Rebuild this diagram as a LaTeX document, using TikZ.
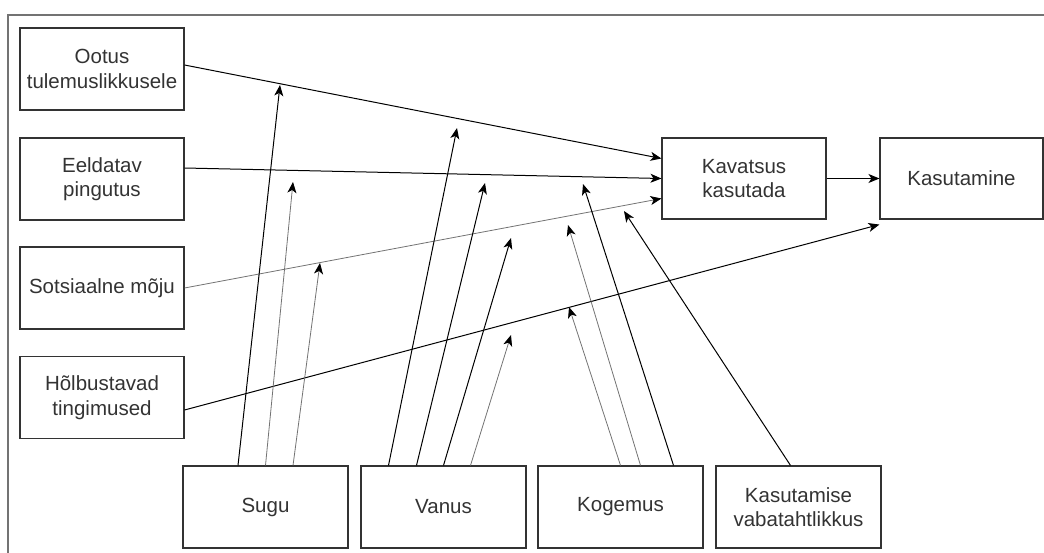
\documentclass[tikz,border=0pt]{standalone}
\usepackage{fontspec}
\setmainfont{Liberation Sans}
\usetikzlibrary{arrows.meta,calc}
\tikzset{
  box/.style={draw=black!80,line width=1.1pt,minimum width=164pt,minimum height=82pt,align=center,text=black!80,font=\fontsize{20.5}{24.5}\selectfont,inner sep=2pt},
  link/.style={line width=1pt,-{Stealth[length=11pt,width=9pt,inset=3pt,color=black]}},
  lite/.style={link,draw=black!55,line width=.8pt}
}
\begin{document}
\begin{tikzpicture}[x=1pt,y=-1pt]
\useasboundingbox(0,0)rectangle(1044,553);
\draw[black!55,line width=1.2pt](8,553)--(8,15)--(1044,15);
% vasak veerg
\node[box](ootus)at(102,69){Ootus\\tulemuslikkusele};\node[box](eeld)at(102,179){Eeldatav\\pingutus};
\node[box](sots)at(102,288){Sotsiaalne mõju};\node[box](holb)at(102,397.5){Hõlbustavad\\tingimused};
\node[box,minimum height=81pt](kav)at(744,178.5){Kavatsus\\kasutada};\node[box,minimum width=163pt,minimum height=81pt](kas)at(961.5,178.5){Kasutamine};
% alumine rida
\node[box,minimum width=165pt](sugu)at(265.5,507){Sugu};\node[box,minimum width=165pt](vanus)at(443.5,507){Vanus};
\node[box,minimum width=165pt](kog)at(620.5,507){Kogemus};\node[box,minimum width=165pt](vaba)at(798.5,507){Kasutamise\\vabatahtlikkus};
% noolte otsad
\coordinate(s1)at(280,85);\coordinate(s2)at(293,182);\coordinate(s3)at(320,263);
\coordinate(v1)at(457,128);\coordinate(v2)at(485,183);\coordinate(v3)at(511,238);\coordinate(v4)at(511,335);
\coordinate(k1)at(569,307);\coordinate(k2)at(568,225);\coordinate(k3)at(583,184);\coordinate(m1)at(624,211);
% peamised seosed
\draw[link]([yshift=4pt]ootus.east)--([yshift=20pt]kav.west);\draw[link]([yshift=11pt]eeld.east)--(kav.west);
\draw[lite](sots.east)--([yshift=-20pt]kav.west);\draw[link]([yshift=-12.5pt]holb.east)--([yshift=-5pt]kas.south west);
\draw[link](kav)--(kas);
% moderaatorid
\draw[link]([xshift=-27.5pt]sugu.north)--(s1);\draw[lite](sugu.north)--(s2);\draw[lite]([xshift=27.5pt]sugu.north)--(s3);
\draw[link]([xshift=-55pt]vanus.north)--(v1);\draw[link]([xshift=-27pt]vanus.north)--(v2);\draw[link](vanus.north)--(v3);\draw[lite]([xshift=27pt]vanus.north)--(v4);
\draw[lite](kog.north)--(k1);\draw[lite]([xshift=20pt]kog.north)--(k2);\draw[link]([xshift=53pt]kog.north)--(k3);
\draw[link]([xshift=-8pt]vaba.north)--(m1);
\end{tikzpicture}
\end{document}
